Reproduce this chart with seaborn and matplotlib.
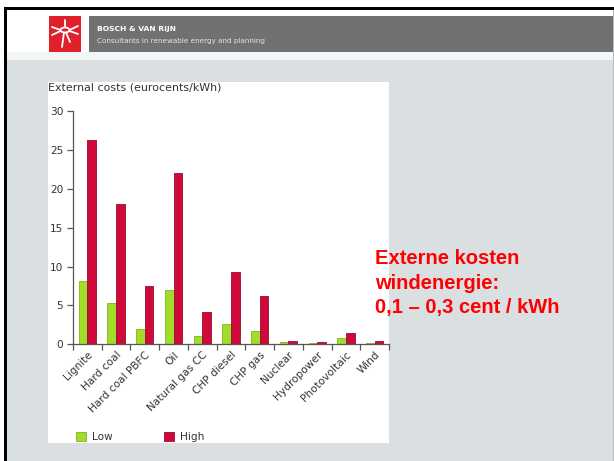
import matplotlib
matplotlib.use("Agg")
import matplotlib.pyplot as plt
from matplotlib.patches import Rectangle, Ellipse
from matplotlib.lines import Line2D
import seaborn as sns
import pandas as pd

# ---- data ----
categories = ["Lignite", "Hard coal", "Hard coal PBFC", "Oil", "Natural gas CC",
              "CHP diesel", "CHP gas", "Nuclear", "Hydropower", "Photovoltaic", "Wind"]
low_values = [8.15, 5.35, 1.95, 7.0, 1.1, 2.6, 1.7, 0.25, 0.15, 0.75, 0.15]
high_values = [26.3, 18.0, 7.55, 22.0, 4.15, 9.35, 6.2, 0.4, 0.3, 1.4, 0.4]
series_names = ["Low", "High"]
y_ticks = [0, 5, 10, 15, 20, 25, 30]
y_title = "External costs (eurocents/kWh)"
note_lines = ["Externe kosten", "windenergie:", "0,1 \u2013 0,3 cent / kWh"]
header_title = "BOSCH & VAN RIJN"
header_sub = "Consultants in renewable energy and planning"

df = pd.DataFrame({
    "category": categories * 2,
    "series": [series_names[0]] * len(categories) + [series_names[1]] * len(categories),
    "value": low_values + high_values,
})

GREEN = "#a3dd2b"
RED = "#cf0a3a"
SLIDE = "#dadfe2"

sns.set_theme(style="white")
plt.rcParams["font.family"] = ["DejaVu Sans"]

W, H = 614, 461
fig = plt.figure(figsize=(W / 100, H / 100), dpi=100)
fig.patch.set_facecolor("white")


def rect_px(x, y, w, h, color, z=0):
    fig.patches.append(Rectangle((x / W, 1 - (y + h) / H), w / W, h / H,
                                 transform=fig.transFigure, facecolor=color,
                                 edgecolor="none", zorder=z))


# slide background
rect_px(5, 8, W - 5, H - 8, SLIDE)
rect_px(5, 8, W - 5, 44, "white")
rect_px(5, 52, W - 5, 8, "#f3f6f6")
# header bar
rect_px(89, 16, W - 89, 36, "#717174")
# logo
rect_px(49, 16, 32, 36, "#e0202a")
# border
rect_px(4, 7, W - 4, 3, "black", 2)
rect_px(4, 7, 3, H - 7, "black", 2)
rect_px(W - 1.5, 10, 1.5, H - 10, "#b8bcbe", 2)
# chart white box
rect_px(48, 82, 341, 361, "white", 1)

# logo figure (white strokes)
cx, cy = 65 / W, 1 - 30 / H
fig.patches.append(Ellipse((cx, cy), 9 / W, 5 / H, transform=fig.transFigure,
                           facecolor="none", edgecolor="white", lw=1.3, zorder=3))
for (x0, y0, x1, y1) in [(65, 27.5, 65, 20), (60.5, 30, 52, 27), (60.5, 31, 52, 35),
                         (69.5, 30, 78, 26), (69.5, 31, 78, 34), (64, 32.5, 62, 47),
                         (66, 32.5, 70, 42)]:
    fig.lines.append(Line2D([x0 / W, x1 / W], [1 - y0 / H, 1 - y1 / H],
                            transform=fig.transFigure, color="white", lw=1.3, zorder=3))

fig.text(97 / W, 1 - 29 / H, header_title, color="white", fontsize=5.4,
         fontweight="bold", va="center", ha="left", zorder=4)
fig.text(97 / W, 1 - 40.5 / H, header_sub, color="#e4e4e4", fontsize=5.2,
         va="center", ha="left", zorder=4)

# ---- chart axes ----
ax = fig.add_axes([73 / W, 1 - 344.3 / H, 316 / W, 233.3 / H])
ax.set_zorder(3)
ax.patch.set_alpha(0)

sns.barplot(data=df, x="category", y="value", hue="series", order=categories,
            hue_order=series_names, palette=[GREEN, RED], width=0.6,
            linewidth=0.0, saturation=1, ax=ax, legend=False)
for p in ax.patches:
    if p.get_facecolor()[1] > 0.5:
        p.set_edgecolor("#7fb31e")
    else:
        p.set_edgecolor("#9b0a2a")
    p.set_linewidth(0.6)

ax.set_xlim(-0.5, len(categories) - 0.5)
ax.set_ylim(0, 30)
ax.set_yticks(y_ticks)
ax.set_yticklabels([str(t) for t in y_ticks])
ax.set_xlabel("")
ax.set_ylabel("")
for s in ["top", "right"]:
    ax.spines[s].set_visible(False)
for s in ["left", "bottom"]:
    ax.spines[s].set_color("#555555")
    ax.spines[s].set_linewidth(0.9)

ax.set_xticks(range(len(categories)))
ax.set_xticklabels(categories, rotation=45, ha="right", rotation_mode="anchor",
                   fontsize=7.6, color="#333333")
ax.tick_params(axis="x", which="major", length=0, pad=4)
ax.set_xticks([i - 0.5 for i in range(len(categories) + 1)], minor=True)
ax.tick_params(axis="x", which="minor", length=4, width=0.9, color="#555555",
               bottom=True, direction="out")
ax.tick_params(axis="y", length=4, width=0.9, color="#555555", left=True,
               labelsize=7.6, labelcolor="#333333", pad=3, direction="out")

fig.text(48 / W, 1 - 88 / H, y_title, fontsize=7.9, color="#333333",
         va="center", ha="left", zorder=5)

# legend
handles = [Rectangle((0, 0), 1, 1, facecolor=GREEN, edgecolor="#7fb31e", lw=0.6),
           Rectangle((0, 0), 1, 1, facecolor=RED, edgecolor="#9b0a2a", lw=0.6)]
leg = fig.legend(handles, series_names, loc="center left",
                 bbox_to_anchor=(76 / W, 1 - 437 / H), ncol=2, frameon=False,
                 fontsize=7.6, handlelength=0.9, handleheight=0.9,
                 handletextpad=0.6, columnspacing=4.9, borderpad=0, borderaxespad=0)
for t in leg.get_texts():
    t.set_color("#333333")
leg.set_zorder(5)

# note text
for i, line in enumerate(note_lines):
    fig.text(375 / W, 1 - (259 + i * 24.3) / H, line, color="#ff0000",
             fontsize=14.5, fontweight="bold", family=["Liberation Sans", "DejaVu Sans"],
             va="center", ha="left", zorder=6)

fig.savefig("out.png", dpi=100)
